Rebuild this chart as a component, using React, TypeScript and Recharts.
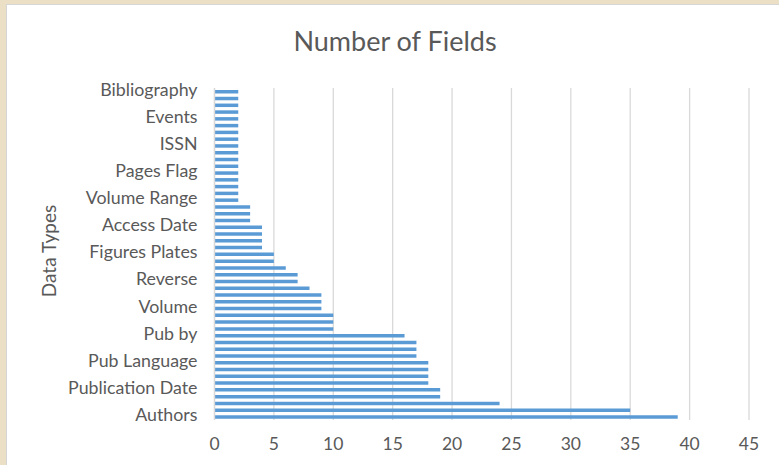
import { BarChart, Bar, XAxis, YAxis, CartesianGrid } from 'recharts';

// Excel order: first entry sits at the bottom of the chart
const dataTypes = [
  'Authors', '', '', '',
  'Publication Date', '', '', '',
  'Pub Language', '', '', '',
  'Pub by', '', '', '',
  'Volume', '', '', '',
  'Reverse', '', '', '',
  'Figures Plates', '', '', '',
  'Access Date', '', '', '',
  'Volume Range', '', '', '',
  'Pages Flag', '', '', '',
  'ISSN', '', '', '',
  'Events', '', '', '',
  'Bibliography',
];

const fieldCounts = [
  39, 35, 24, 19, 19, 18, 18, 18, 18, 17, 17, 17, 16, 10, 10, 10, 9,
  9, 9, 8, 7, 7, 6, 5, 5, 4, 4, 4, 4, 3, 3, 3, 2,
  2, 2, 2, 2, 2, 2, 2, 2, 2, 2, 2, 2, 2, 2, 2, 2,
];

const xTicks = [0, 5, 10, 15, 20, 25, 30, 35, 40, 45];

const rows = fieldCounts.map((count, i) => ({ id: i, count }));

const FONT = 'Lato, "Noto Sans", sans-serif';
const TEXT = '#595959';

export default function App() {
  return (
    <div style={{ position: 'fixed', left: 0, top: 0, width: 779, height: 465, background: '#ebe0c5', fontFamily: FONT }}>
      <div
        style={{
          position: 'absolute', left: 6, top: 4, right: 0, bottom: 0,
          background: '#fff', borderLeft: '1px solid #d6d6d6', borderTop: '1px solid #d6d6d6',
        }}
      />
      <div style={{ position: 'absolute', left: 0, width: 790, top: 24, textAlign: 'center', fontSize: 27, color: TEXT }}>
        Number of Fields
      </div>
      <div
        style={{
          position: 'absolute', left: 48, top: 251, fontSize: 19, color: TEXT, whiteSpace: 'nowrap',
          transform: 'translate(-50%, -50%) rotate(-90deg)',
        }}
      >
        Data Types
      </div>
      <div style={{ position: 'absolute', left: 0, top: 0 }}>
        <BarChart
          width={779}
          height={465}
          data={rows}
          layout="vertical"
          margin={{ top: 88, right: 30, bottom: 15, left: 0 }}
        >
          <CartesianGrid horizontal={false} stroke="#d9d9d9" strokeWidth={1.3} />
          <XAxis
            type="number"
            domain={[0, 45]}
            ticks={xTicks}
            axisLine={false}
            tickLine={false}
            tickSize={0}
            tickMargin={17.5}
            height={30}
            tick={{ fill: TEXT, fontSize: 17.5, fontFamily: FONT }}
          />
          <YAxis
            type="category"
            dataKey="id"
            reversed
            width={214.5}
            interval={3}
            axisLine={{ stroke: '#d9d9d9', strokeWidth: 1.3 }}
            tickLine={false}
            tickSize={0}
            tickMargin={17}
            tickFormatter={(v) => dataTypes[v]}
            tick={{ fill: TEXT, fontSize: 17.8, fontFamily: FONT, dy: -2 }}
          />
          <Bar dataKey="count" fill="#5b9bd5" barSize={3.5} isAnimationActive={false} />
        </BarChart>
      </div>
    </div>
  );
}
